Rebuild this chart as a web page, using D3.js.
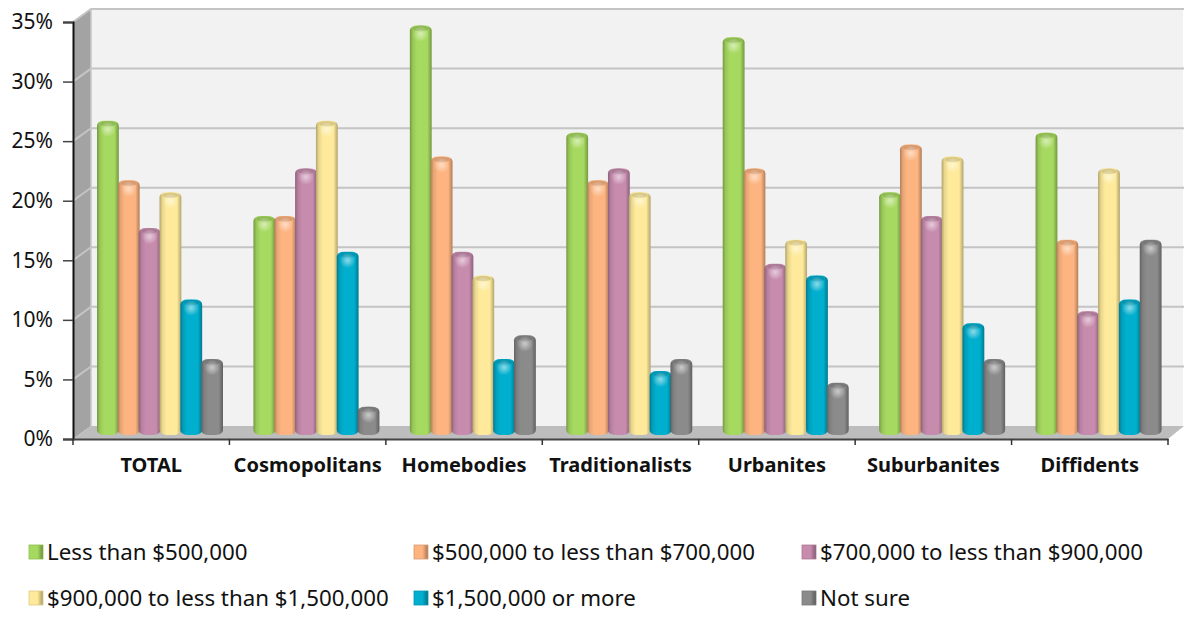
<!DOCTYPE html>
<html>
<head>
<meta charset="utf-8">
<title>Home value by segment</title>
<style>
  html, body { margin: 0; padding: 0; background: #fff; }
  svg { display: block; }
  text { font-family: "Noto Sans", "Open Sans", sans-serif; fill: #111; }
</style>
</head>
<body>
<svg width="1184" height="617"></svg>
<script src="https://d3js.org/d3.v7.min.js"></script>
<script>
var categories = ['TOTAL', 'Cosmopolitans', 'Homebodies', 'Traditionalists', 'Urbanites', 'Suburbanites', 'Diffidents'];
var seriesNames = ['Less than $500,000', '$500,000 to less than $700,000', '$700,000 to less than $900,000',
                   '$900,000 to less than $1,500,000', '$1,500,000 or more', 'Not sure'];
var lessThan500 = [26, 18, 34, 25, 33, 20, 25];
var from500to700 = [21, 18, 23, 21, 22, 24, 16];
var from700to900 = [17, 22, 15, 22, 14, 18, 10];
var from900to1500 = [20, 26, 13, 20, 16, 23, 22];
var over1500 = [11, 15, 6, 5, 13, 9, 11];
var notSure = [6, 2, 8, 6, 4, 6, 16];
var seriesValues = [lessThan500, from500to700, from700to900, from900to1500, over1500, notSure];
var yTicks = [0, 5, 10, 15, 20, 25, 30, 35];
var colors = ['#a6d95f', '#fdb480', '#c78bae', '#feea9a', '#00aecd', '#8b8b8b'];

var svg = d3.select('svg');
var defs = svg.append('defs');

// front plane of the chart, the walls sit behind it by depth
var x0 = d3.scaleBand().domain(categories).range([73, 1168]);
var x1 = d3.scaleBand().domain(d3.range(6)).range([24, 149]);
var y = d3.scaleLinear().domain([0, 35]).range([439, 22]);
var depthX = 18, depthY = 13;
var barLiftY = 7;

var left = x0.range()[0], right = x0.range()[1];

// side wall, back wall, floor
svg.append('polygon')
  .attr('points', [[left, y(35)], [left + depthX, y(35) - depthY], [left + depthX, y(0) - depthY], [left, y(0)]].join(' '))
  .attr('fill', '#a3a3a3');
svg.append('rect')
  .attr('x', left + depthX).attr('y', y(35) - depthY)
  .attr('width', right + 15 - left - depthX).attr('height', y(0) - y(35))
  .attr('fill', '#f2f2f2');
svg.append('polygon')
  .attr('points', [[left, y(0)], [left + depthX, y(0) - depthY], [1184, y(0) - depthY], [right, y(0)]].join(' '))
  .attr('fill', '#bdbdbd');

// gridlines
yTicks.slice(1).forEach(function(t) {
  svg.append('path')
    .attr('d', 'M' + left + ',' + y(t) + 'L' + (left + depthX) + ',' + (y(t) - depthY) + 'H1184')
    .attr('fill', 'none').attr('stroke', '#c4c4c4').attr('stroke-width', 2);
});
svg.append('line')
  .attr('x1', left + depthX).attr('x2', left + depthX)
  .attr('y1', y(35) - depthY).attr('y2', y(0) - depthY)
  .attr('stroke', '#c9c9c9').attr('stroke-width', 1.5);

// cylinder shading, one gradient per series
colors.forEach(function(c, i) {
  var g = defs.append('linearGradient').attr('id', 'bar' + i);
  g.append('stop').attr('offset', '0%').attr('stop-color', d3.rgb(c).darker(1));
  g.append('stop').attr('offset', '13%').attr('stop-color', d3.rgb(c).darker(0.25));
  g.append('stop').attr('offset', '32%').attr('stop-color', c);
  g.append('stop').attr('offset', '80%').attr('stop-color', c);
  g.append('stop').attr('offset', '100%').attr('stop-color', d3.rgb(c).darker(1));
  var s = defs.append('linearGradient').attr('id', 'key' + i);
  s.append('stop').attr('offset', '0%').attr('stop-color', c);
  s.append('stop').attr('offset', '60%').attr('stop-color', c);
  s.append('stop').attr('offset', '100%').attr('stop-color', d3.rgb(c).darker(1.2));
});
var glow = defs.append('radialGradient').attr('id', 'glow');
glow.append('stop').attr('offset', '0%').attr('stop-color', '#fff').attr('stop-opacity', 0.55);
glow.append('stop').attr('offset', '100%').attr('stop-color', '#fff').attr('stop-opacity', 0);

// bars
seriesValues.forEach(function(values, s) {
  var group = svg.append('g');
  function midX(d, i) { return x0(categories[i]) + x1(s) + x1.bandwidth() / 2 + 0.5; }
  group.selectAll('rect')
    .data(values)
    .enter()
    .append('rect')
    .attr('x', function(d, i) { return x0(categories[i]) + x1(s); })
    .attr('y', function(d) { return y(d) - barLiftY - 1.5; })
    .attr('width', x1.bandwidth() + 1)
    .attr('height', function(d) { return y(0) - y(d) + 4.5; })
    .attr('rx', 7).attr('ry', 5)
    .attr('fill', 'url(#bar' + s + ')');
  // darker rim along the top of the cylinder
  group.selectAll('ellipse.rim')
    .data(values)
    .enter()
    .append('ellipse')
    .attr('class', 'rim')
    .attr('cx', midX)
    .attr('cy', function(d) { return y(d) - barLiftY + 1.5; })
    .attr('rx', 8).attr('ry', 2.8)
    .attr('fill', d3.rgb(colors[s]).darker(0.45));
  group.selectAll('ellipse.glow')
    .data(values)
    .enter()
    .append('ellipse')
    .attr('class', 'glow')
    .attr('cx', midX)
    .attr('cy', function(d) { return y(d) - barLiftY + 7; })
    .attr('rx', 8).attr('ry', 8)
    .attr('fill', 'url(#glow)');
});

// axes
var yAxis = d3.axisLeft(y).tickValues(yTicks).tickSize(10).tickPadding(10)
  .tickFormat(function(d) { return d + '%'; });
var yG = svg.append('g').attr('transform', 'translate(' + left + ',0)').call(yAxis);
yG.select('.domain').attr('stroke', '#111').attr('stroke-width', 2);
yG.selectAll('.tick line').attr('stroke', '#444').attr('stroke-width', 1.5);
yG.selectAll('text').style('font-size', '21px').style('font-family', '"Noto Sans", sans-serif').attr('fill', '#111');

var xAxis = d3.axisBottom(x0).tickSize(0).tickPadding(19);
var xG = svg.append('g').attr('transform', 'translate(0,' + y(0) + ')').call(xAxis);
xG.select('.domain').attr('stroke', '#444').attr('stroke-width', 2);
xG.selectAll('text').style('font-size', '20px').style('font-weight', 'bold')
  .style('font-family', '"Noto Sans", sans-serif').attr('fill', '#000');
xG.selectAll('.sep')
  .data(d3.range(8))
  .enter()
  .append('line')
  .attr('x1', function(i) { return left + i * x0.step(); })
  .attr('x2', function(i) { return left + i * x0.step(); })
  .attr('y1', 0).attr('y2', 6)
  .attr('stroke', '#333').attr('stroke-width', 1.5);

// legend
var legendX = [29, 414, 802];
var legendY = [552, 598];
var legend = svg.append('g').selectAll('g')
  .data(seriesNames)
  .enter()
  .append('g')
  .attr('transform', function(d, i) {
    return 'translate(' + legendX[i % 3] + ',' + legendY[Math.floor(i / 3)] + ')';
  });
legend.append('rect')
  .attr('x', 0).attr('y', -7).attr('width', 14).attr('height', 14)
  .attr('fill', function(d, i) { return 'url(#key' + i + ')'; })
  .attr('stroke', function(d, i) { return d3.rgb(colors[i]).darker(0.4); })
  .attr('stroke-width', 0.8);
legend.append('text')
  .attr('x', 18).attr('y', 8)
  .style('font-size', '22.3px')
  .text(function(d) { return d; });
</script>
</body>
</html>
